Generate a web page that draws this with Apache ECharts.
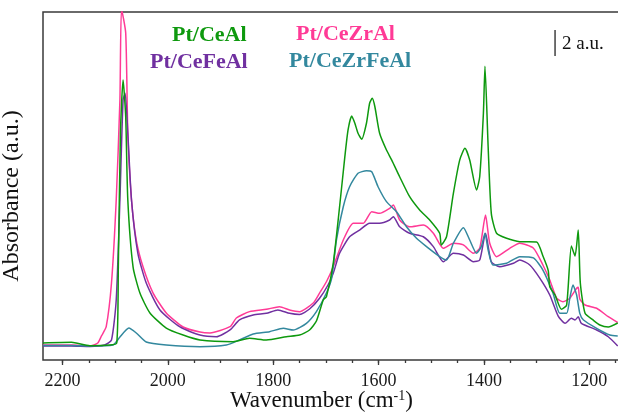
<!DOCTYPE html>
<html>
<head>
<meta charset="utf-8">
<script src="https://cdn.jsdelivr.net/npm/echarts@6/dist/echarts.min.js"></script>
<style>
  html, body { margin: 0; padding: 0; background: #fff; }
  #chart { width: 618px; height: 414px; }
</style>
</head>
<body>
<div id="chart"></div>
<script>
// DRIFTS spectra of adsorbed CO / carbonates, wavenumber (cm-1) vs absorbance (a.u.)
const ceAlWn  = [2237, 2183, 2148, 2110, 2097, 2094, 2090, 2085, 2080, 2076, 2066, 2053, 2034, 2003, 1971, 1939, 1876, 1845, 1813, 1775, 1750, 1731, 1718, 1705, 1699, 1686, 1674, 1664, 1658, 1651, 1645, 1639, 1632, 1623, 1617, 1612, 1607, 1598, 1585, 1575, 1560, 1541, 1522, 1503, 1484, 1481, 1471, 1458, 1446, 1436, 1427, 1414, 1408, 1401, 1398, 1392, 1386, 1376, 1357, 1332, 1300, 1288, 1278, 1275, 1265, 1253, 1243, 1234, 1227, 1221, 1217, 1208, 1193, 1180, 1164, 1146];
const ceAlAbs = [1.31, 1.36, 1.10, 1.15, 1.31, 7.15, 17.46, 21.54, 18.69, 12.31, 7.15, 5.15, 3.62, 2.46, 1.92, 1.54, 1.41, 1.67, 1.54, 1.79, 1.92, 2.31, 3.0, 4.62, 4.87, 7.46, 11.79, 15.64, 17.69, 18.77, 18.21, 17.44, 16.98, 18.21, 19.75, 20.13, 19.48, 17.44, 16.15, 15.38, 14.10, 12.56, 11.54, 10.77, 9.75, 8.85, 9.48, 12.82, 15.38, 16.28, 15.38, 13.08, 14.10, 18.98, 22.6, 16.41, 11.28, 9.75, 9.36, 9.10, 9.08, 8.0, 6.9, 5.64, 5.0, 3.9, 4.23, 8.77, 8.0, 10.0, 5.92, 3.59, 3.08, 2.69, 2.54, 2.85];

const ceZrAlWn  = [2237, 2183, 2148, 2133, 2126, 2117, 2107, 2098, 2091, 2088, 2080, 2076, 2069, 2060, 2047, 2028, 2003, 1971, 1939, 1920, 1882, 1870, 1845, 1813, 1788, 1769, 1750, 1724, 1712, 1699, 1686, 1667, 1648, 1629, 1613, 1598, 1579, 1572, 1560, 1541, 1515, 1496, 1477, 1458, 1439, 1420, 1408, 1397, 1389, 1376, 1351, 1332, 1306, 1288, 1275, 1262, 1250, 1237, 1224, 1221, 1218, 1208, 1186, 1164, 1146];
const ceZrAlAbs = [1.15, 1.15, 1.08, 1.31, 1.85, 2.56, 5.92, 12.31, 20.0, 27.0, 25.15, 17.46, 12.31, 9.23, 7.15, 5.15, 3.62, 2.54, 2.15, 2.08, 2.56, 3.23, 3.72, 3.90, 4.10, 3.85, 3.72, 4.38, 5.15, 6.02, 7.18, 9.23, 10.52, 10.52, 11.41, 11.28, 11.67, 11.92, 10.77, 10.25, 10.38, 9.75, 8.59, 8.98, 8.85, 8.21, 8.59, 11.15, 8.98, 7.95, 8.59, 8.98, 8.6, 7.31, 6.15, 4.75, 4.48, 4.75, 5.52, 5.6, 4.7, 4.23, 3.98, 3.33, 2.88];

const ceFeAlWn  = [2237, 2183, 2148, 2120, 2107, 2098, 2091, 2085, 2081, 2076, 2069, 2057, 2041, 2015, 1977, 1939, 1908, 1882, 1864, 1838, 1813, 1791, 1769, 1750, 1731, 1712, 1696, 1686, 1674, 1655, 1636, 1617, 1598, 1579, 1572, 1560, 1541, 1515, 1496, 1477, 1458, 1439, 1420, 1408, 1397, 1386, 1370, 1344, 1332, 1313, 1294, 1275, 1259, 1246, 1234, 1227, 1221, 1215, 1186, 1164, 1146];
const ceFeAlAbs = [1.08, 1.08, 1.04, 1.15, 1.54, 4.62, 12.31, 20.0, 20.52, 17.46, 12.31, 8.23, 5.92, 3.85, 2.54, 1.92, 1.79, 2.31, 3.08, 3.46, 3.59, 3.85, 3.59, 3.5, 3.92, 4.75, 5.77, 6.67, 8.21, 9.48, 10.0, 10.52, 10.52, 10.77, 11.02, 10.25, 9.75, 9.48, 8.72, 7.56, 8.21, 8.08, 7.56, 7.69, 9.75, 7.56, 7.18, 7.44, 7.69, 7.31, 6.3, 5.0, 3.38, 2.82, 3.21, 3.08, 3.33, 2.82, 2.31, 1.79, 1.08];

const ceZrFeAlWn  = [2237, 2183, 2148, 2104, 2091, 2074, 2060, 2041, 2003, 1939, 1889, 1864, 1838, 1807, 1781, 1762, 1737, 1718, 1699, 1689, 1680, 1667, 1655, 1639, 1623, 1613, 1601, 1585, 1566, 1547, 1528, 1509, 1484, 1471, 1458, 1439, 1427, 1414, 1405, 1398, 1392, 1383, 1357, 1332, 1306, 1288, 1269, 1256, 1243, 1237, 1231, 1224, 1218, 1211, 1186, 1161, 1146];
const ceZrFeAlAbs = [1.12, 1.12, 1.08, 1.15, 1.77, 2.46, 2.08, 1.38, 1.15, 1.02, 1.15, 1.54, 2.0, 2.18, 2.44, 2.31, 2.82, 3.72, 5.15, 6.3, 9.23, 11.79, 13.33, 14.36, 14.56, 14.48, 13.33, 12.18, 11.41, 10.25, 9.36, 8.72, 7.95, 7.69, 8.98, 10.18, 9.23, 8.21, 8.72, 9.75, 8.46, 7.31, 7.44, 7.95, 7.85, 6.92, 5.15, 3.59, 3.59, 4.75, 5.77, 5.0, 3.59, 3.08, 2.44, 1.92, 1.85];

// scale bar: 2 a.u.
const scaleBarWn = 1265;
const scaleBarAbs = [23.38, 25.38];

const majorTicks = [2200, 2000, 1800, 1600, 1400, 1200];
const minorTicks = [2200, 2150, 2100, 2050, 2000, 1950, 1900, 1850, 1800, 1750, 1700, 1650, 1600, 1550, 1500, 1450, 1400, 1350, 1300, 1250, 1200, 1150];

const seriesNames  = ['Pt/CeAl', 'Pt/CeZrAl', 'Pt/CeFeAl', 'Pt/CeZrFeAl'];
const seriesColors = ['#0e990e', '#ff3a96', '#7030a0', '#33889e'];

const zip = (xs, ys) => xs.map((x, i) => [x, ys[i]]);
const spectra = [
  zip(ceAlWn, ceAlAbs),
  zip(ceZrAlWn, ceZrAlAbs),
  zip(ceFeAlWn, ceFeAlAbs),
  zip(ceZrFeAlWn, ceZrFeAlAbs)
];

const serif = 'Liberation Serif, Times New Roman, serif';
const chart = echarts.init(document.getElementById('chart'), null, { renderer: 'canvas' });

const X_MIN = 1136, X_MAX = 2237;
const axisCommon = {
  type: 'value', inverse: true, min: X_MIN, max: X_MAX,
  splitLine: { show: false }, axisLine: { show: false }
};

// draw order: pink, purple, teal, green on top
const order = [1, 2, 3, 0];

chart.setOption({
  animation: false,
  backgroundColor: '#fff',
  grid: {
    left: 43, top: 12, width: 580, height: 348,
    show: true, borderColor: '#3a3a3a', borderWidth: 1.5,
    containLabel: false, outerBoundsMode: 'none'
  },
  xAxis: [
    Object.assign({}, axisCommon, {
      position: 'bottom',
      axisTick: { show: true, inside: false, length: 5, customValues: majorTicks, lineStyle: { color: '#3a3a3a', width: 1.3 } },
      axisLabel: {
        show: true, customValues: majorTicks, margin: 12,
        fontFamily: serif, fontSize: 18, color: '#1a1a1a',
        formatter: v => String(v)
      }
    }),
    Object.assign({}, axisCommon, {
      position: 'bottom',
      axisTick: { show: true, inside: false, length: 3, customValues: minorTicks, lineStyle: { color: '#3a3a3a', width: 1.3 } },
      axisLabel: { show: false }
    })
  ],
  yAxis: {
    type: 'value', min: 0, max: 26.77,
    axisLine: { show: false }, axisTick: { show: false }, axisLabel: { show: false }, splitLine: { show: false }
  },
  series: order.map(i => ({
    name: seriesNames[i],
    type: 'line',
    data: spectra[i],
    showSymbol: false,
    smooth: 0.2,
    clip: true,
    lineStyle: { color: seriesColors[i], width: 1.5 },
    z: 2
  })).concat([{
    name: 'scale',
    type: 'line',
    data: scaleBarAbs.map(v => [scaleBarWn, v]),
    showSymbol: false,
    lineStyle: { color: '#111', width: 1.2 },
    z: 3
  }]),
  graphic: [
    { type: 'text', left: 172, top: 24, style: { text: seriesNames[0], fill: seriesColors[0], font: 'bold 22px ' + serif } },
    { type: 'text', left: 296, top: 23, style: { text: seriesNames[1], fill: seriesColors[1], font: 'bold 22px ' + serif } },
    { type: 'text', left: 150, top: 51, style: { text: seriesNames[2], fill: seriesColors[2], font: 'bold 22px ' + serif } },
    { type: 'text', left: 289, top: 50, style: { text: seriesNames[3], fill: seriesColors[3], font: 'bold 22px ' + serif } },
    { type: 'text', left: 562, top: 35, style: { text: '2 a.u.', fill: '#111', font: '19px ' + serif } },
    {
      type: 'text', left: 230, top: 389,
      style: {
        text: 'Wavenumber (cm{sup|-1})',
        font: '23px ' + serif, fill: '#111',
        rich: { sup: { font: '14px ' + serif, fill: '#111', verticalAlign: 'top', padding: [0, 0, 10, 0] } }
      }
    },
    {
      type: 'text', x: 12, y: 196, rotation: Math.PI / 2,
      style: { text: 'Absorbance (a.u.)', font: '24px ' + serif, fill: '#111', align: 'center', verticalAlign: 'middle' }
    }
  ]
});
</script>
</body>
</html>
